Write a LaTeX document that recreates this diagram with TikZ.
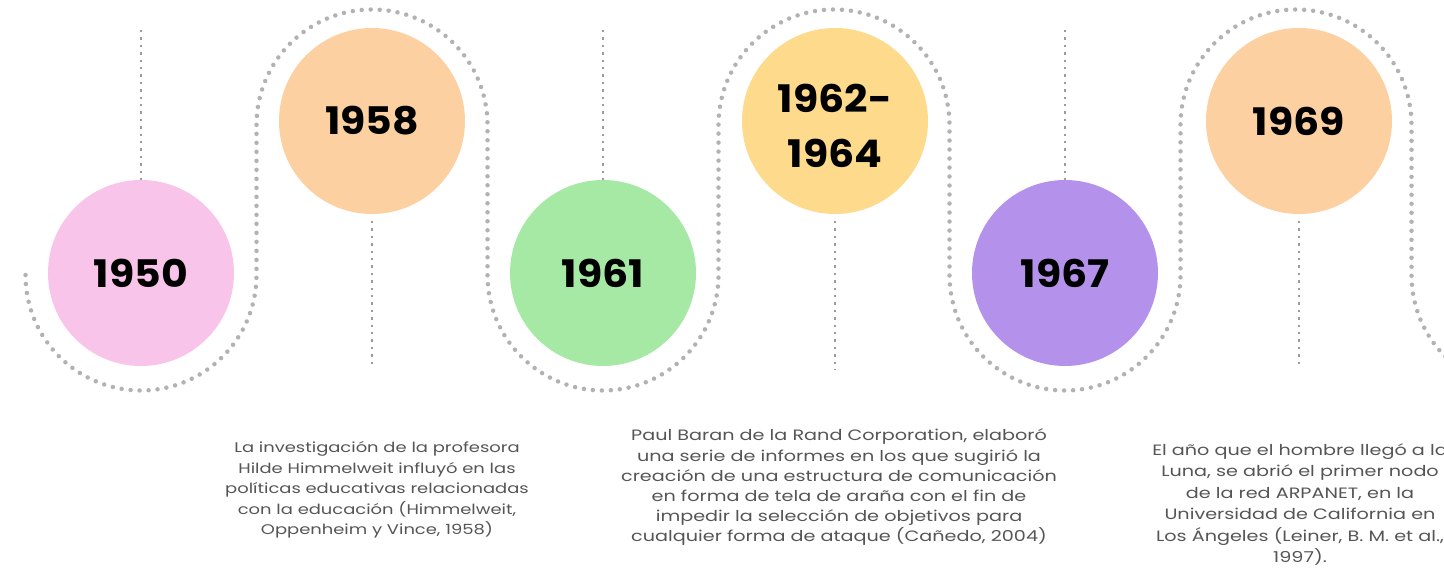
\documentclass[tikz,border=0pt]{standalone}
\usepackage{fontspec}
\setmainfont{Poppins}
\newfontfamily\yearfont[FakeStretch=1.08]{Poppins}
\newfontfamily\notefont[FakeStretch=1.28]{Poppins}
\usepackage{tikz}

\definecolor{pinkc}{RGB}{249,196,233}
\definecolor{peachc}{RGB}{252,208,160}
\definecolor{greenc}{RGB}{166,233,164}
\definecolor{yellowc}{RGB}{253,218,140}
\definecolor{purplec}{RGB}{180,146,236}
\definecolor{dotgray}{RGB}{178,178,178}
\definecolor{stemgray}{RGB}{155,155,155}
\definecolor{notegray}{RGB}{85,85,85}

\begin{document}
\begin{tikzpicture}[x=1pt,y=1pt,
        year/.style={circle,minimum size=186pt,inner sep=0pt,outer sep=0pt,align=center,
                     font=\yearfont\bfseries\fontsize{38}{55}\selectfont},
        note/.style={align=center,text=notegray,anchor=base,
                     font=\notefont\fontsize{14}{20.5}\selectfont},
        snake/.style={draw=dotgray,line width=4.5pt,line cap=round,dash pattern=on 0pt off 9pt},
        stem/.style={draw=stemgray,line width=2.4pt,dash pattern=on 2.4pt off 5pt}]
        \useasboundingbox (0,0) rectangle (1444,575);
        % dotted path
        \draw[snake] (25.5,300) arc (180:360:115.5) -- (256.5,450)
              arc (180:0:115.5) -- (487.5,300)
              arc (180:360:115.5) -- (718.5,450)
              arc (180:0:115.5) -- (949.5,300)
              arc (180:360:115.5) -- (1180.5,450)
              arc (180:0:115.5) -- (1411.5,300)
              arc (180:270:115.5);
        % circles
        \node[year,fill=pinkc]   (c1950) at (141,302)  {1950};
        \node[year,fill=peachc]  (c1958) at (372,454)  {1958};
        \node[year,fill=greenc]  (c1961) at (603,302)  {1961};
        \node[year,fill=yellowc,text height=94pt] (c1962) at (835,454) {1962-\\1964};
        \node[year,fill=purplec] (c1967) at (1065,302) {1967};
        \node[year,fill=peachc]  (c1969) at (1299,454) {1969};
        % stems
        \coordinate (s1950) at (141,545);
        \coordinate (s1961) at (603,545);
        \coordinate (s1967) at (1065,545);
        \coordinate (e1958) at (372,207);
        \coordinate (e1962) at (835,205);
        \coordinate (e1969) at (1299,207);
        \draw[stem] (s1950) -- (c1950.north);
        \draw[stem] (s1961) -- (c1961.north);
        \draw[stem] (s1967) -- (c1967.north);
        \draw[stem,shorten <=7pt] (c1958.south) -- (e1958);
        \draw[stem,shorten <=7pt] (c1962.south) -- (e1962);
        \draw[stem,shorten <=7pt] (c1969.south) -- (e1969);
        % notes (anchored at the last line)
        \node[note] (t1958) at (377,40) {La investigación de la profesora\\
              Hilde Himmelweit influyó en las\\ políticas educativas relacionadas\\
              con la educación (Himmelweit,\\ Oppenheim y Vince, 1958)};
        \node[note,font=\notefont\fontsize{15}{20.2}\selectfont] (t1962) at (839,33)
              {Paul Baran de la Rand Corporation, elaboró\\
              una serie de informes en los que sugirió la\\
              creación de una estructura de comunicación\\
              en forma de tela de araña con el fin de\\
              impedir la selección de objetivos para\\
              cualquier forma de ataque (Cañedo, 2004)};
        \node[note,font=\notefont\fontsize{15}{21.5}\selectfont] (t1969) at (1300,12)
              {El año que el hombre llegó a la\\
              Luna, se abrió el primer nodo\\ de la red ARPANET, en la\\
              Universidad de California en\\ Los Ángeles (Leiner, B. M. et al.,\\ 1997).};
\end{tikzpicture}
\end{document}
